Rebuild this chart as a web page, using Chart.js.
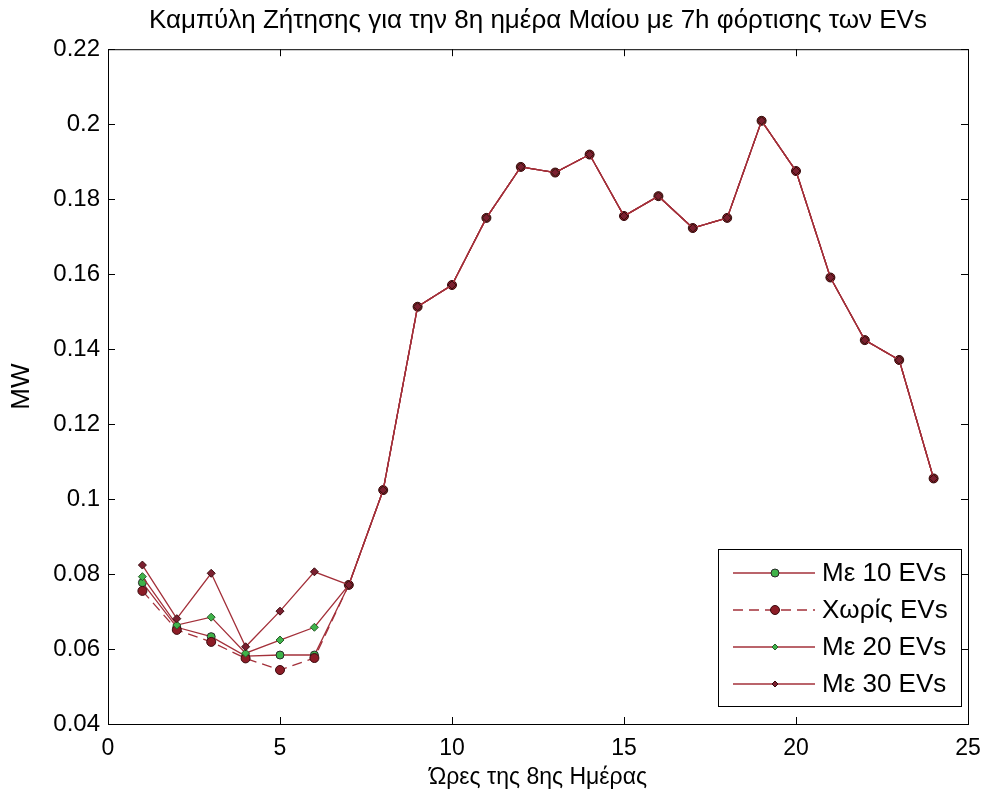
<!DOCTYPE html>
<html>
<head>
<meta charset="utf-8">
<script src="https://cdn.jsdelivr.net/npm/chart.js@4"></script>
<style>
  html, body { margin: 0; padding: 0; background: #fff; }
  #wrap { width: 984px; height: 798px; }
</style>
</head>
<body>
<div id="wrap"><canvas id="demandChart" width="984" height="798"></canvas></div>
<script>
// ώρες της ημέρας
const hours = [1, 2, 3, 4, 5, 6, 7, 8, 9, 10, 11, 12, 13, 14, 15, 16, 17, 18, 19, 20, 21, 22, 23, 24];

// ζήτηση σε MW
const with10 = [0.0777, 0.0658, 0.0633, 0.0581, 0.0584, 0.0584, 0.0771, 0.1024, 0.1513, 0.1571, 0.1750, 0.1886,
                0.1871, 0.1919, 0.1755, 0.1808, 0.1723, 0.1750, 0.2009, 0.1875, 0.1591, 0.1424, 0.1371, 0.1055];
const withoutEV = [0.0755, 0.0651, 0.0619, 0.0575, 0.0544, 0.0576, 0.0771, 0.1024, 0.1513, 0.1571, 0.1750, 0.1886,
                0.1871, 0.1919, 0.1755, 0.1808, 0.1723, 0.1750, 0.2009, 0.1875, 0.1591, 0.1424, 0.1371, 0.1055];
const with20 = [0.0793, 0.0664, 0.0685, 0.0589, 0.0624, 0.0658, 0.0771, 0.1024, 0.1513, 0.1571, 0.1750, 0.1886,
                0.1871, 0.1919, 0.1755, 0.1808, 0.1723, 0.1750, 0.2009, 0.1875, 0.1591, 0.1424, 0.1371, 0.1055];
const with30 = [0.0824, 0.0681, 0.0802, 0.0606, 0.0701, 0.0806, 0.0771, 0.1024, 0.1513, 0.1571, 0.1750, 0.1886,
                0.1871, 0.1919, 0.1755, 0.1808, 0.1723, 0.1750, 0.2009, 0.1875, 0.1591, 0.1424, 0.1371, 0.1055];

const seriesLabels = ['Με 10 EVs', 'Χωρίς EVs', 'Με 20 EVs', 'Με 30 EVs'];
const xTicks = [0, 5, 10, 15, 20, 25];
const yTicks = [0.04, 0.06, 0.08, 0.1, 0.12, 0.14, 0.16, 0.18, 0.2, 0.22];

const LINE = '#a3303a';
const FONT = "'Liberation Sans', Arial, sans-serif";

function pts(values) { return hours.map((h, i) => ({ x: h, y: values[i] })); }

Chart.defaults.font.family = FONT;
Chart.defaults.color = '#000';

// κουτί, εσωτερικές υποδιαιρέσεις και υπόμνημα όπως στο MATLAB
const matlabFrame = {
    id: 'matlabFrame',
    afterDraw(chart) {
        const { ctx, chartArea: a, scales: { x, y } } = chart;
        ctx.save();
        ctx.strokeStyle = '#000';
        ctx.lineWidth = 1;
        ctx.setLineDash([]);
        ctx.strokeRect(a.left + 0.5, a.top + 0.5, a.right - a.left, a.bottom - a.top);
        const len = 7;
        ctx.beginPath();
        xTicks.forEach(v => {
            const px = Math.round(x.getPixelForValue(v)) + 0.5;
            ctx.moveTo(px, a.bottom); ctx.lineTo(px, a.bottom - len);
            ctx.moveTo(px, a.top); ctx.lineTo(px, a.top + len);
        });
        yTicks.forEach(v => {
            const py = Math.round(y.getPixelForValue(v)) + 0.5;
            ctx.moveTo(a.left, py); ctx.lineTo(a.left + len, py);
            ctx.moveTo(a.right, py); ctx.lineTo(a.right - len, py);
        });
        ctx.stroke();

        // υπόμνημα
        const bx = 718, by = 549, bw = 243, bh = 157;
        ctx.fillStyle = '#fff';
        ctx.fillRect(bx, by, bw, bh);
        ctx.strokeRect(bx + 0.5, by + 0.5, bw, bh);
        chart.data.datasets.forEach((ds, i) => {
            const cy = by + 24 + i * 37;
            ctx.strokeStyle = ds.borderColor;
            ctx.lineWidth = 1.3;
            ctx.setLineDash(ds.borderDash || []);
            ctx.beginPath();
            ctx.moveTo(733, cy); ctx.lineTo(815, cy);
            ctx.stroke();
            ctx.setLineDash([]);
            ctx.fillStyle = ds.pointBackgroundColor;
            ctx.strokeStyle = ds.pointBorderColor;
            ctx.lineWidth = 1;
            const r = ds.pointStyle === 'rectRot' ? 3 : ds.pointRadius;
            ctx.beginPath();
            if (ds.pointStyle === 'rectRot') {
                ctx.moveTo(775, cy - r); ctx.lineTo(775 + r, cy); ctx.lineTo(775, cy + r); ctx.lineTo(775 - r, cy); ctx.closePath();
            } else {
                ctx.arc(775, cy, r, 0, Math.PI * 2);
            }
            ctx.fill(); ctx.stroke();
            ctx.fillStyle = '#000';
            ctx.font = '26px ' + FONT;
            ctx.textBaseline = 'middle';
            ctx.textAlign = 'left';
            ctx.fillText(ds.label, 822, cy + 1);
        });
        ctx.restore();
    }
};

function initChart() {
    const ctx = document.getElementById('demandChart').getContext('2d');
    new Chart(ctx, {
        type: 'line',
        data: {
            datasets: [
                { label: seriesLabels[0], data: pts(with10), borderColor: LINE, borderWidth: 1.3, order: 3,
                  pointStyle: 'circle', pointRadius: 4, pointBackgroundColor: '#3fb34a', pointBorderColor: '#2a2a2a', pointBorderWidth: 1 },
                { label: seriesLabels[1], data: pts(withoutEV), borderColor: LINE, borderWidth: 1.3, borderDash: [10, 6], order: 2,
                  pointStyle: 'circle', pointRadius: 4.5, pointBackgroundColor: '#8c1c26', pointBorderColor: '#3a0a0e', pointBorderWidth: 1 },
                { label: seriesLabels[2], data: pts(with20), borderColor: LINE, borderWidth: 1.3, order: 1,
                  pointStyle: 'rectRot', pointRadius: 4, pointBackgroundColor: '#3fb34a', pointBorderColor: '#2a5a2a', pointBorderWidth: 1 },
                { label: seriesLabels[3], data: pts(with30), borderColor: LINE, borderWidth: 1.3, order: 0,
                  pointStyle: 'rectRot', pointRadius: 4, pointBackgroundColor: '#7b2030', pointBorderColor: '#3a0a0e', pointBorderWidth: 1 }
            ]
        },
        options: {
            responsive: false,
            animation: false,
            layout: { padding: { right: 16 } },
            plugins: {
                legend: { display: false },
                tooltip: { enabled: false },
                title: {
                    display: true, fullSize: false,
                    text: 'Καμπύλη Ζήτησης για την 8η ημέρα Μαίου με 7h φόρτισης των EVs',
                    font: { size: 26, weight: 'normal' }, color: '#000',
                    padding: { top: 5, bottom: 13 }
                }
            },
            scales: {
                x: {
                    type: 'linear', min: 0, max: 25,
                    afterFit: s => { s.height = 74; s.paddingRight = 0; s.paddingLeft = 0; },
                    afterBuildTicks: s => { s.ticks = xTicks.map(v => ({ value: v })); },
                    grid: { display: false, drawTicks: false },
                    border: { display: false },
                    ticks: { padding: 11, font: { size: 23 }, color: '#000', maxRotation: 0 },
                    title: { display: true, text: 'Ώρες της 8ης Ημέρας', font: { size: 23 }, color: '#000', padding: { bottom: 7 } }
                },
                y: {
                    type: 'linear', min: 0.04, max: 0.22,
                    afterFit: s => { s.width = 108; },
                    afterBuildTicks: s => { s.ticks = yTicks.map(v => ({ value: v })); },
                    grid: { display: false, drawTicks: false },
                    border: { display: false },
                    ticks: { padding: 8, font: { size: 24 }, color: '#000', callback: v => String(+v.toFixed(2)) },
                    title: { display: true, text: 'MW', font: { size: 26 }, color: '#000', padding: { top: 6 } }
                }
            }
        },
        plugins: [matlabFrame]
    });
}

window.onload = initChart;
</script>
</body>
</html>
